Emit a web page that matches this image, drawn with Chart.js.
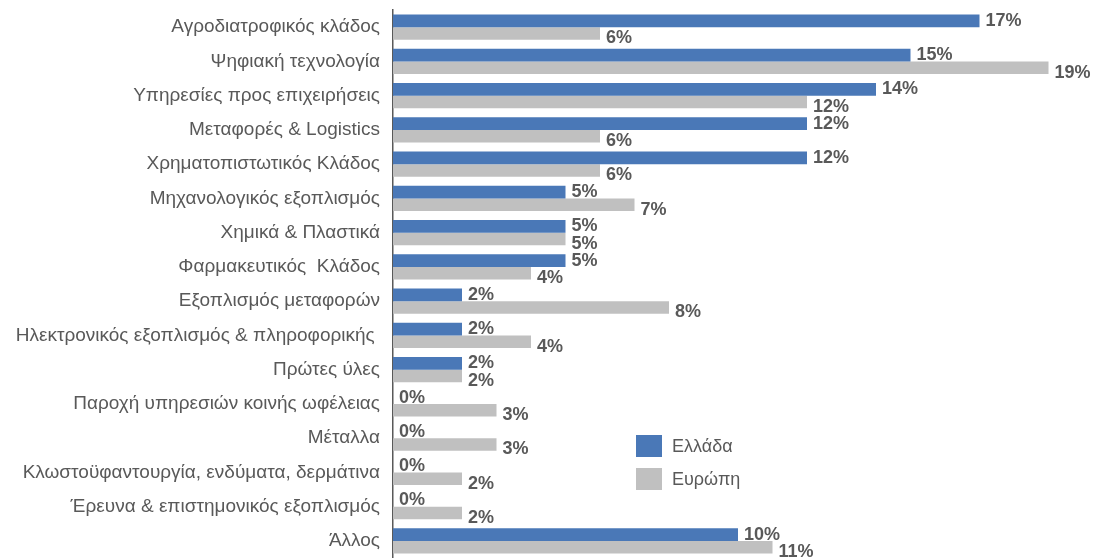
<!DOCTYPE html>
<html lang="el">
<head>
<meta charset="utf-8">
<script src="https://cdn.jsdelivr.net/npm/chart.js@4/dist/chart.umd.min.js"></script>
<style>
    html, body { margin: 0; padding: 0; background: #ffffff; }
    #wrap { position: relative; width: 1099px; height: 558px; }
</style>
</head>
<body>
<div id="wrap"><canvas id="sectorChart"></canvas></div>
<script>
// Categories and series values (percent)
const categories = [
    'Αγροδιατροφικός κλάδος',
    'Ψηφιακή τεχνολογία',
    'Υπηρεσίες προς επιχειρήσεις',
    'Μεταφορές & Logistics',
    'Χρηματοπιστωτικός Κλάδος',
    'Μηχανολογικός εξοπλισμός',
    'Χημικά & Πλαστικά',
    'Φαρμακευτικός  Κλάδος',
    'Εξοπλισμός μεταφορών',
    'Ηλεκτρονικός εξοπλισμός & πληροφορικής ',
    'Πρώτες ύλες',
    'Παροχή υπηρεσιών κοινής ωφέλειας',
    'Μέταλλα',
    'Κλωστοϋφαντουργία, ενδύματα, δερμάτινα',
    'Έρευνα & επιστημονικός εξοπλισμός',
    'Άλλος'
];
const greeceValues = [17, 15, 14, 12, 12, 5, 5, 5, 2, 2, 2, 0, 0, 0, 0, 10];
const europeValues = [6, 19, 12, 6, 6, 7, 5, 4, 8, 4, 2, 3, 3, 2, 2, 11];
const seriesNames = ['Ελλάδα', 'Ευρώπη'];

const COLORS = {
    greece: '#4A78B7',
    europe: '#C0C0C0',
    text: '#595959',
    axis: '#595959'
};
const FONT = '"Liberation Sans", Arial, sans-serif';

// Value labels at the end of each bar
const valueLabels = {
    id: 'valueLabels',
    afterDatasetsDraw(chart) {
        const ctx = chart.ctx;
        ctx.save();
        ctx.font = `bold 18px ${FONT}`;
        ctx.fillStyle = COLORS.text;
        ctx.textAlign = 'left';
        ctx.textBaseline = 'middle';
        chart.data.datasets.forEach((ds, i) => {
            const offsetY = i === 0 ? 0 : 5;
            chart.getDatasetMeta(i).data.forEach((bar, j) => {
                ctx.fillText(`${ds.data[j]}%`, bar.x + 6, bar.y + offsetY);
            });
        });
        ctx.restore();
    }
};

// Legend drawn inside the plot, lower middle
const innerLegend = {
    id: 'innerLegend',
    afterDraw(chart) {
        const ctx = chart.ctx;
        const left = 636, top = 435, box = { w: 26, h: 22 }, gap = 33;
        ctx.save();
        ctx.font = `18px ${FONT}`;
        ctx.textBaseline = 'middle';
        chart.data.datasets.forEach((ds, i) => {
            const y = top + i * gap;
            ctx.fillStyle = ds.backgroundColor;
            ctx.fillRect(left, y, box.w, box.h);
            ctx.fillStyle = COLORS.text;
            ctx.fillText(ds.label, left + box.w + 10, y + box.h / 2 + 1);
        });
        ctx.restore();
    }
};

function drawSectorChart() {
    const ctx = document.getElementById('sectorChart')?.getContext('2d');
    if (!ctx) return;

    new Chart(ctx, {
        type: 'bar',
        data: {
            labels: categories,
            datasets: [
                { label: seriesNames[0], data: greeceValues, backgroundColor: COLORS.greece },
                { label: seriesNames[1], data: europeValues, backgroundColor: COLORS.europe }
            ]
        },
        options: {
            indexAxis: 'y',
            responsive: true,
            maintainAspectRatio: false,
            animation: false,
            layout: { padding: { top: 10, right: 16, bottom: 0, left: 0 } },
            datasets: {
                bar: { categoryPercentage: 0.73, barPercentage: 1.0 }
            },
            plugins: {
                legend: { display: false },
                tooltip: { enabled: false }
            },
            scales: {
                x: {
                    display: false,
                    min: 0,
                    max: 20
                },
                y: {
                    grid: { display: false, drawTicks: false },
                    border: { display: true, color: COLORS.axis, width: 1.5 },
                    ticks: {
                        padding: 13,
                        color: COLORS.text,
                        font: { family: FONT, size: 19 },
                        autoSkip: false
                    },
                    afterFit: scale => {
                        scale.width = 393;
                        scale.paddingTop = 0;
                        scale.paddingBottom = 0;
                    }
                }
            }
        },
        plugins: [valueLabels, innerLegend]
    });
}

document.addEventListener('DOMContentLoaded', drawSectorChart);
</script>
</body>
</html>
